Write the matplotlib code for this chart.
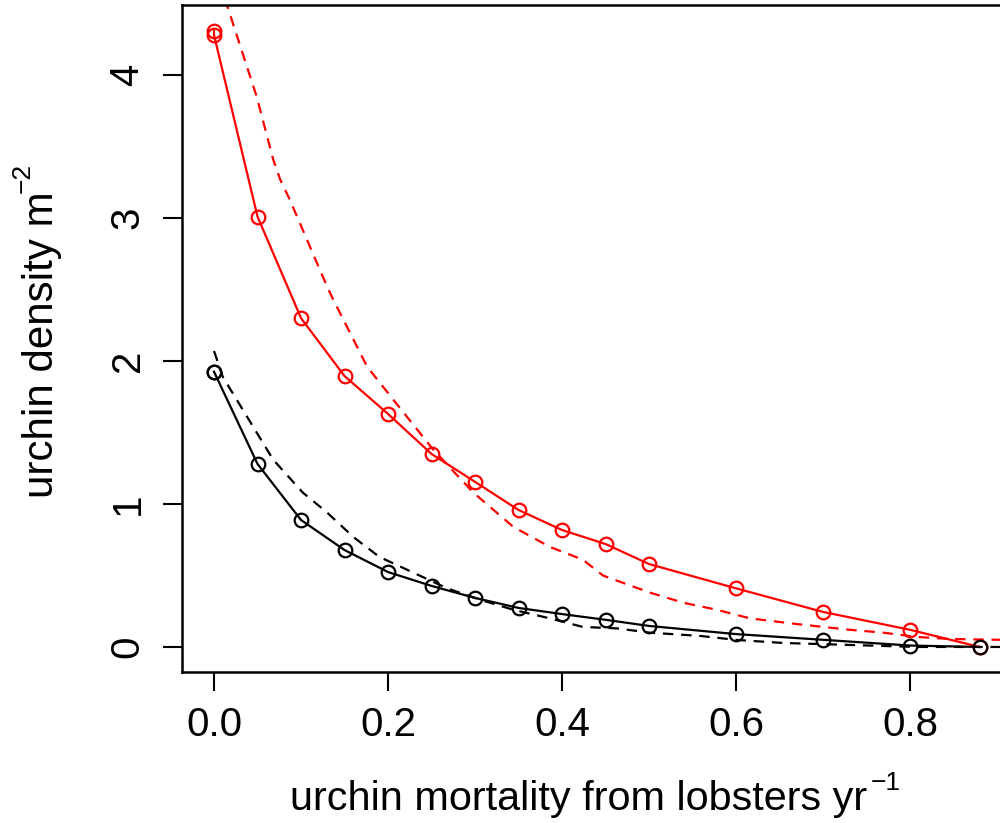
import matplotlib
matplotlib.use("Agg")
import matplotlib.pyplot as plt
import numpy as np

plt.rcParams['font.family'] = ['Liberation Sans', 'DejaVu Sans']

# simulated points (solid lines with circles)
mort_x = [0.0, 0.0, 0.05, 0.10, 0.15, 0.20, 0.25, 0.30, 0.35, 0.40, 0.45, 0.50, 0.60, 0.70, 0.80, 0.88]
red_y = [4.31, 4.28, 3.01, 2.30, 1.895, 1.63, 1.35, 1.155, 0.958, 0.818, 0.72, 0.58, 0.41, 0.245, 0.12, 0.0]
black_y = [1.925, 1.925, 1.28, 0.888, 0.678, 0.524, 0.427, 0.343, 0.273, 0.23, 0.19, 0.147, 0.09, 0.05, 0.01, 0.0]

# model curves (dashed)
red_dash_x = [0.0, 0.017, 0.049, 0.068, 0.076, 0.087, 0.130, 0.137, 0.176, 0.206, 0.252, 0.298, 0.344,
              0.386, 0.424, 0.447, 0.467, 0.501, 0.539, 0.578, 0.616, 0.670, 0.731, 0.769, 0.808, 0.846, 0.905]
red_dash_y = [4.75, 4.45, 3.85, 3.41, 3.27, 3.13, 2.52, 2.43, 1.96, 1.73, 1.38, 1.08, 0.84,
              0.70, 0.61, 0.50, 0.455, 0.38, 0.31, 0.26, 0.20, 0.16, 0.12, 0.10, 0.07, 0.056, 0.05]
black_dash_x = [0.0, 0.010, 0.038, 0.068, 0.102, 0.130, 0.160, 0.190, 0.229, 0.268, 0.306, 0.344,
                0.386, 0.424, 0.463, 0.501, 0.559, 0.601, 0.654, 0.731, 0.808, 0.905]
black_dash_y = [2.07, 1.89, 1.61, 1.31, 1.08, 0.94, 0.77, 0.63, 0.52, 0.41, 0.33, 0.26,
                0.20, 0.14, 0.13, 0.10, 0.077, 0.049, 0.028, 0.014, 0.0, 0.0]

xticks = [0.0, 0.2, 0.4, 0.6, 0.8]
xticklabels = ["0.0", "0.2", "0.4", "0.6", "0.8"]
yticks = [0, 1, 2, 3, 4]

W = 1000.0
H = 823.0

fig = plt.figure(figsize=(10, 8.23), dpi=100)
ax = fig.add_axes([0.182, 0.1835, 0.818, 0.8104])

lw = 1.6
dash = (0, (4.7, 3.5))
ax.plot(red_dash_x, red_dash_y, color="red", lw=lw, linestyle=dash)
ax.plot(black_dash_x, black_dash_y, color="black", lw=lw, linestyle=dash)
ax.plot(mort_x, red_y, color="red", lw=lw, marker="o", markersize=9.8,
        markerfacecolor="none", markeredgecolor="red", markeredgewidth=1.6)
ax.plot(mort_x, black_y, color="black", lw=lw, marker="o", markersize=9.8,
        markerfacecolor="none", markeredgecolor="black", markeredgewidth=1.6)

ax.set_xlim(-0.0368, 0.9034)
ax.set_ylim(-0.175, 4.49)

ax.spines['right'].set_visible(False)
for s in ['left', 'top', 'bottom']:
    ax.spines[s].set_linewidth(1.8)

ax.set_xticks(xticks)
ax.set_xticklabels(xticklabels)
ax.set_yticks(yticks)
ax.set_yticklabels([str(v) for v in yticks], rotation=90, va="center")
ax.tick_params(axis="both", direction="out", length=13.5, width=1.5, labelsize=29)
ax.tick_params(axis="x", pad=11)
ax.tick_params(axis="y", pad=12)

# axis titles, with superscripts placed like R plotmath
fig.text(579 / W, 1 - 810 / H, "urchin mortality from lobsters yr", fontsize=29.8,
         ha="center", va="baseline")
fig.text(871 / W, 1 - 790 / H, "\u22121", fontsize=19, ha="left", va="baseline")

fig.text(53 / W, 1 - 498 / H, "urchin density m", fontsize=30.3, rotation=90,
         rotation_mode="anchor", ha="left", va="baseline")
fig.text(30 / W, 1 - 193 / H, "\u22122", fontsize=19, rotation=90,
         rotation_mode="anchor", ha="left", va="baseline")

fig.savefig("out.png", dpi=100)
